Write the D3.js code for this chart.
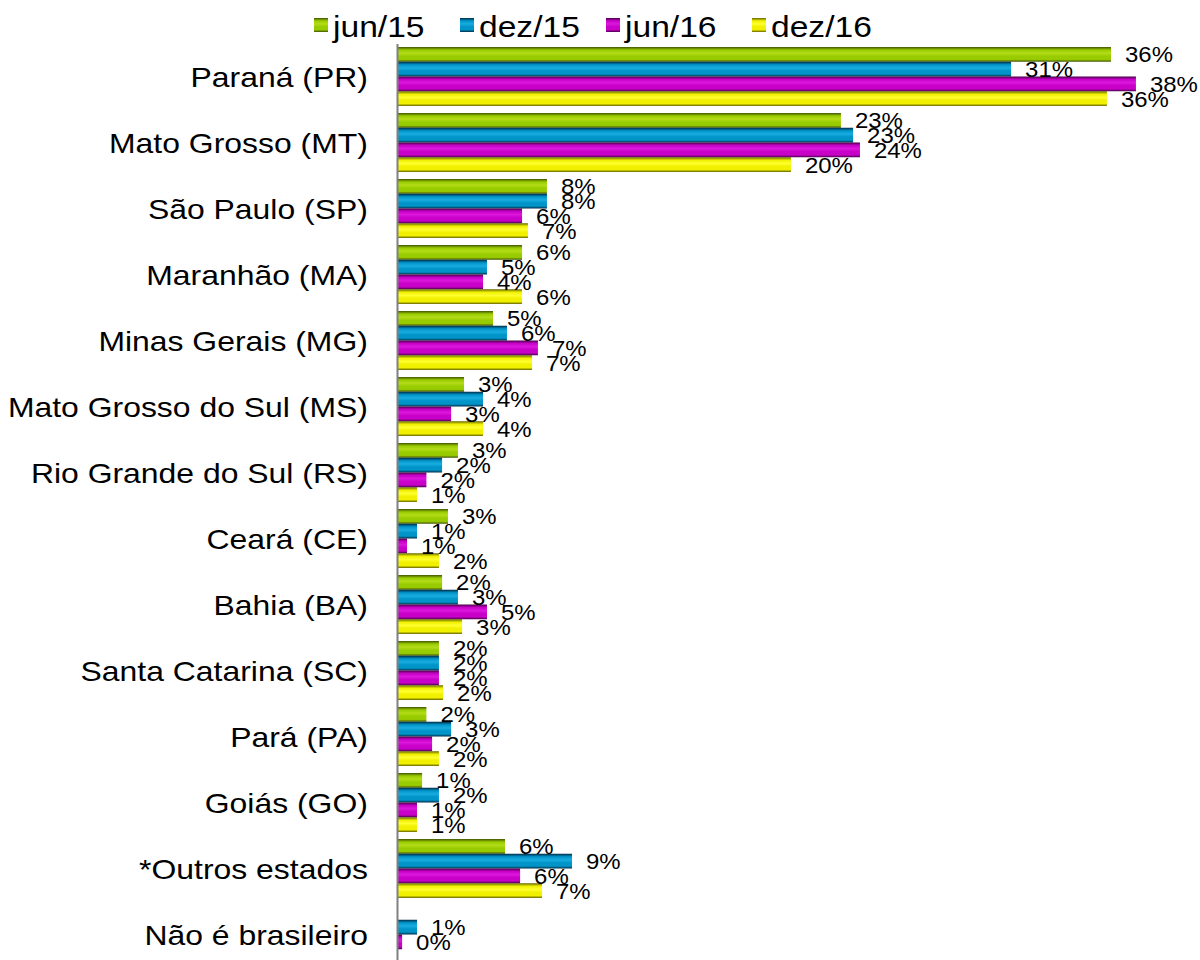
<!DOCTYPE html>
<html>
<head>
<meta charset="utf-8">
<script src="https://cdn.jsdelivr.net/npm/d3@7"></script>
<style>
  body { margin: 0; background: #fff; }
  text { font-family: "Liberation Sans", Arial, sans-serif; fill: #000; }
</style>
</head>
<body>
<div id="chart"></div>
<script>
var categories = ["Paraná (PR)", "Mato Grosso (MT)", "São Paulo (SP)", "Maranhão (MA)",
  "Minas Gerais (MG)", "Mato Grosso do Sul (MS)", "Rio Grande do Sul (RS)", "Ceará (CE)",
  "Bahia (BA)", "Santa Catarina (SC)", "Pará (PA)", "Goiás (GO)", "*Outros estados",
  "Não é brasileiro"];
var seriesNames = ["jun/15", "dez/15", "jun/16", "dez/16"];
// percent values
var jun15 = [36.43, 22.65, 7.65, 6.38, 4.9, 3.42, 3.11, 2.6, 2.3, 2.14, 1.5, 1.28, 5.51, null];
var dez15 = [31.33, 23.27, 7.65, 4.59, 5.61, 4.39, 2.3, 1.02, 3.11, 2.14, 2.76, 2.14, 8.93, 1.02];
var jun16 = [37.7, 23.62, 6.38, 4.39, 7.19, 2.76, 1.5, 0.51, 4.59, 2.14, 1.79, 1.02, 6.28, 0.26];
var dez16 = [36.22, 20.1, 6.68, 6.38, 6.89, 4.39, 1.02, 2.14, 3.32, 2.35, 2.14, 1.02, 7.4, null];
var seriesValues = [jun15, dez15, jun16, dez16];
var colors = [
  {base: "#99cc00", light: "#b4dc18", dark: "#405400"},
  {base: "#0094c8", light: "#18ace0", dark: "#002a44"},
  {base: "#c800c8", light: "#dc18dc", dark: "#480048"},
  {base: "#f0f000", light: "#ffff30", dark: "#646400"}
];

var width = 1200, height = 960;
var svg = d3.select("#chart").append("svg")
    .attr("width", width)
    .attr("height", height);

var defs = svg.append("defs");
colors.forEach(function(c, i) {
  var g = defs.append("linearGradient")
      .attr("id", "grad" + i)
      .attr("x1", 0).attr("y1", 0).attr("x2", 0).attr("y2", 1);
  [[0, c.dark], [0.2, c.base], [0.42, c.light], [0.62, c.base], [0.84, c.base], [1, c.dark]]
    .forEach(function(s) {
      g.append("stop").attr("offset", s[0]).attr("stop-color", s[1]);
    });
});

var x = d3.scaleLinear().domain([0, 40]).range([397, 1181]);
var y = d3.scaleBand().domain(categories).range([43.5, 967.5])
    .paddingInner(0.106).paddingOuter(0.053);
var y1 = d3.scaleBand().domain(seriesNames).range([0, y.bandwidth()]);

var rows = [];
categories.forEach(function(cat, ci) {
  seriesNames.forEach(function(s, si) {
    var v = seriesValues[si][ci];
    if (v != null) rows.push({cat: cat, s: s, si: si, v: v});
  });
});

svg.selectAll("rect.bar")
  .data(rows)
  .enter()
  .append("rect")
  .attr("class", "bar")
  .attr("x", x(0))
  .attr("y", function(d) { return y(d.cat) + y1(d.s); })
  .attr("width", function(d) { return x(d.v) - x(0); })
  .attr("height", y1.bandwidth())
  .attr("fill", function(d) { return "url(#grad" + d.si + ")"; });

svg.selectAll("text.lbl")
  .data(rows)
  .enter()
  .append("text")
  .attr("class", "lbl")
  .attr("transform", function(d) {
    return "translate(" + (x(d.v) + 14) + "," + (y(d.cat) + y1(d.s) + y1.bandwidth() / 2 + 8) + ") scale(1.09,1)";
  })
  .style("font-size", "22px")
  .text(function(d) { return Math.round(d.v) + "%"; });

var axis = svg.append("g")
    .attr("transform", "translate(" + x(0) + ",0)")
    .call(d3.axisLeft(y).tickSize(0).tickPadding(26));
axis.select(".domain").attr("stroke", "#808080").attr("stroke-width", 2);
axis.selectAll(".tick text")
    .attr("transform", "scale(1.12,1)")
    .attr("dy", "0.36em")
    .style("font-size", "28.5px")
    .style("font-family", "'Liberation Sans', Arial, sans-serif")
    .attr("fill", "#000");

// legend entries of equal width
var legend = svg.selectAll("g.leg")
  .data(seriesNames)
  .enter()
  .append("g")
  .attr("class", "leg")
  .attr("transform", function(d, i) { return "translate(" + (314 + i * 146) + ",0)"; });
legend.append("rect")
  .attr("x", 0).attr("y", 18)
  .attr("width", 14).attr("height", 14)
  .attr("fill", function(d, i) { return "url(#grad" + i + ")"; });
legend.append("text")
  .attr("transform", "translate(19,37) scale(1.12,1)")
  .style("font-size", "30px")
  .text(function(d) { return d; });
</script>
</body>
</html>
